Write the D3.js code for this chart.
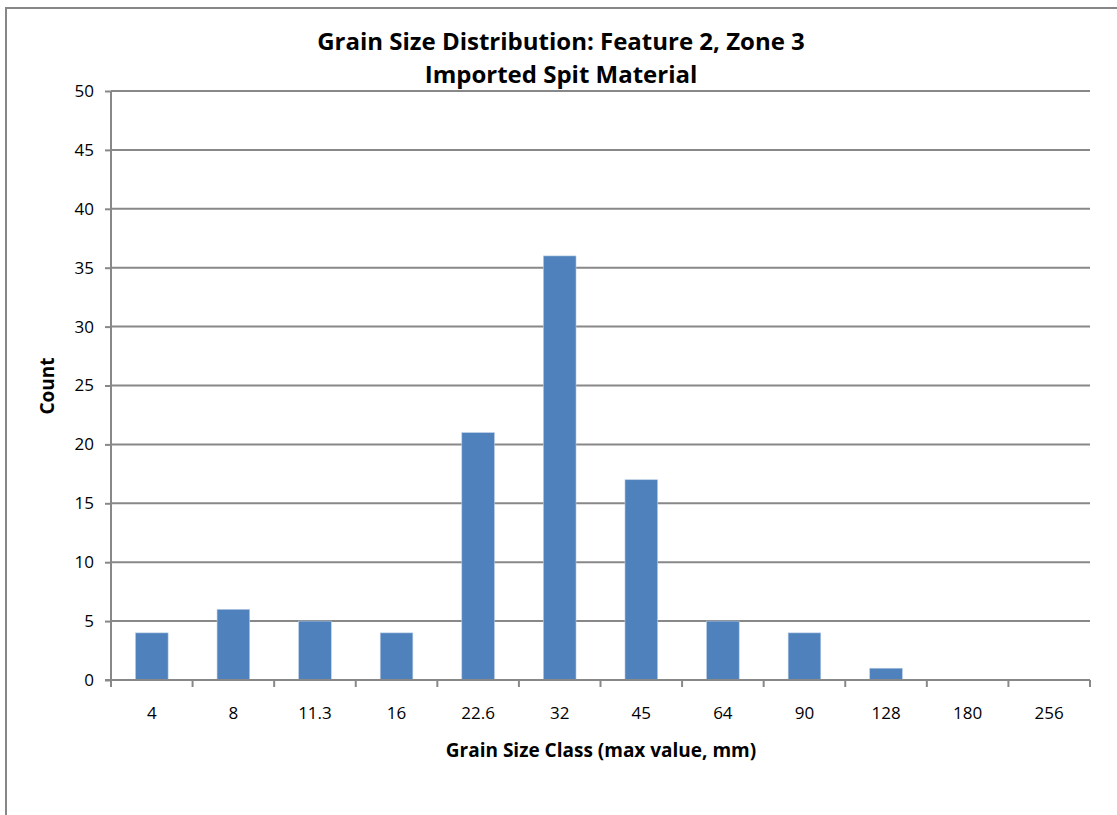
<!DOCTYPE html>
<html><head><meta charset="utf-8">
<script src="https://cdn.jsdelivr.net/npm/d3@7"></script>
<style>
body{margin:0;background:#fff;}
svg{display:block;font-family:"Open Sans", sans-serif;}
</style></head>
<body>
<script>
const categories = ["4","8","11.3","16","22.6","32","45","64","90","128","180","256"];
const counts = [4,6,5,4,21,36,17,5,4,1,0,0];
const yTicks = [0,5,10,15,20,25,30,35,40,45,50];
const titleLines = ["Grain Size Distribution: Feature 2, Zone 3","Imported Spit Material"];
const xTitle = "Grain Size Class (max value, mm)";
const yTitle = "Count";

(function(){
const W = 1117, H = 815;
const FONT = "'Open Sans', sans-serif";
const svg = d3.select("body").append("svg").attr("width", W).attr("height", H);
svg.append("rect").attr("x",6).attr("y",8).attr("width",W+10).attr("height",H+10)
  .attr("fill","#fff").attr("stroke","#878787").attr("stroke-width",2);

const pL = 111, pR = 1090, pT = 91, pB = 680;
const xb = d3.scaleBand().domain(categories).range([pL,pR]);
const y = d3.scaleLinear().domain([0,50]).range([pB,pT]);

// gridlines
svg.append("g").selectAll("line").data(yTicks.filter(d=>d>0)).join("line")
  .attr("x1",pL).attr("x2",pR).attr("y1",d=>y(d)).attr("y2",d=>y(d))
  .attr("stroke","#888").attr("stroke-width",2);

// bars
svg.append("g").selectAll("rect").data(counts).join("rect")
  .attr("x",(d,i)=>xb(categories[i]) + xb.bandwidth()*0.3)
  .attr("width",xb.bandwidth()*0.4)
  .attr("y",d=>y(d)).attr("height",d=>pB-y(d))
  .attr("fill","#4F81BD").attr("stroke","#B9CDE5").attr("stroke-width",0.6);

// y axis
const ya = svg.append("g").attr("transform",`translate(${pL},0)`)
  .call(d3.axisLeft(y).tickValues(yTicks).tickSize(6).tickPadding(11));
ya.select(".domain").attr("stroke","#888").attr("stroke-width",2).attr("d",`M0,${pT}V${pB}`);
ya.selectAll(".tick line").attr("stroke","#888").attr("stroke-width",2);
ya.selectAll("text").attr("font-size",17).attr("fill","#000").attr("font-family",FONT);

// x axis
const xa = svg.append("g").attr("transform",`translate(0,${pB})`);
xa.append("line").attr("x1",pL-6).attr("x2",pR).attr("y1",0).attr("y2",0)
  .attr("stroke","#888").attr("stroke-width",2);
const tickXs = categories.map(c=>xb(c)).concat([pR]);
xa.selectAll("line.t").data(tickXs).join("line").attr("class","t")
  .attr("x1",d=>d).attr("x2",d=>d).attr("y1",0).attr("y2",7)
  .attr("stroke","#888").attr("stroke-width",2);
xa.selectAll("text").data(categories).join("text")
  .attr("x",d=>xb(d)+xb.bandwidth()/2).attr("y",39)
  .attr("text-anchor","middle").attr("font-size",17).attr("fill","#000").text(d=>d);

// titles
svg.append("text").attr("x",561).attr("y",50).attr("text-anchor","middle")
  .attr("font-size",24).attr("font-weight","bold").text(titleLines[0]);
svg.append("text").attr("x",561).attr("y",83).attr("text-anchor","middle")
  .attr("font-size",24).attr("font-weight","bold").text(titleLines[1]);
svg.append("text").attr("x",601).attr("y",757).attr("text-anchor","middle")
  .attr("font-size",19).attr("font-weight","bold").text(xTitle);
svg.append("text").attr("transform","translate(54,386) rotate(-90)").attr("text-anchor","middle")
  .attr("font-size",19).attr("font-weight","bold").text(yTitle);
})();
</script>
</body></html>
